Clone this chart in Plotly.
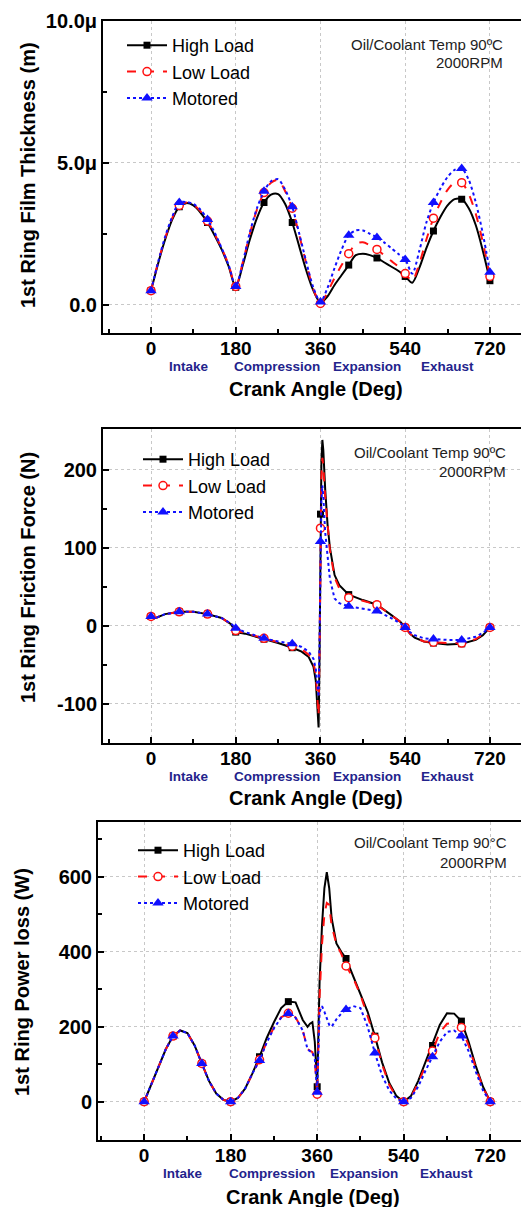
import plotly.graph_objects as go

# ---------------- data ----------------
# Panel 1: 1st ring film thickness (micrometres)
angle_film = [0, 15, 30, 45, 60, 75, 90, 105, 120, 135, 150, 165, 180,
              195, 210, 225, 240, 255, 270, 285, 300, 315, 330, 345, 360,
              375, 390, 405, 420, 435, 450, 465, 480, 495, 510, 525, 540,
              555, 570, 585, 600, 615, 630, 645, 660, 675, 690, 705, 720]
film_high = [0.5, 1.45, 2.3, 3.0, 3.45, 3.58, 3.5, 3.25, 2.9, 2.45, 1.95, 1.35, 0.62,
             1.4, 2.3, 3.05, 3.6, 3.88, 3.9, 3.55, 2.9, 2.05, 1.2, 0.5, 0.08,
             0.3, 0.7, 1.05, 1.4, 1.75, 1.8, 1.75, 1.65, 1.5, 1.35, 1.2, 1.0,
             0.78, 1.3, 2.0, 2.6, 3.1, 3.5, 3.72, 3.72, 3.4, 2.8, 1.9, 0.85]
film_low = [0.5, 1.5, 2.35, 3.05, 3.5, 3.6, 3.52, 3.3, 2.95, 2.5, 2.0, 1.4, 0.65,
            1.5, 2.5, 3.35, 3.95, 4.3, 4.4, 4.0, 3.4, 2.45, 1.45, 0.55, 0.05,
            0.45, 0.95, 1.4, 1.8, 2.15, 2.2, 2.1, 1.95, 1.75, 1.55, 1.35, 1.1,
            0.85, 1.45, 2.3, 3.05, 3.6, 4.05, 4.3, 4.3, 3.9, 3.2, 2.2, 1.0]
film_motored = [0.5, 1.5, 2.4, 3.1, 3.6, 3.62, 3.55, 3.35, 3.0, 2.55, 2.0, 1.4, 0.65,
                1.5, 2.55, 3.4, 4.0, 4.35, 4.42, 4.05, 3.45, 2.5, 1.5, 0.6, 0.1,
                0.6, 1.3, 1.95, 2.45, 2.62, 2.62, 2.5, 2.37, 2.2, 2.0, 1.8, 1.6,
                1.1, 1.9, 2.9, 3.6, 4.1, 4.5, 4.75, 4.8, 4.4, 3.6, 2.5, 1.15]

# Panel 2: 1st ring friction force (N)
angle_fric = [0, 10, 30, 60, 90, 120, 150, 170, 180, 200, 240, 270, 300, 320, 335,
              345, 350, 353, 356, 358, 360, 362, 364, 366, 370, 375, 380, 390, 400,
              420, 450, 480, 510, 530, 540, 550, 560, 580, 600, 630, 660, 690, 705, 720]
fric_high = [12, 10, 15, 18, 18, 15, 10, 2, -8, -10, -17, -22, -28, -33, -40,
             -52, -70, -95, -130, -40, 143, 210, 238, 225, 175, 130, 100, 65, 52,
             40, 33, 27, 14, 5, -2, -10, -15, -20, -22, -24, -23, -18, -12, -2]
fric_low = [12, 10, 15, 18, 18, 15, 10, 2, -6, -9, -16, -21, -26, -30, -37,
            -47, -62, -85, -115, -35, 125, 190, 215, 205, 165, 125, 97, 62, 48,
            36, 32, 27, 14, 5, -2, -10, -15, -20, -21, -22, -22, -17, -11, -2]
fric_motored = [12, 10, 15, 18, 18, 15, 10, 3, -3, -8, -16, -20, -23, -27, -33,
                -42, -55, -70, -91, -20, 108, 160, 180, 165, 120, 85, 60, 35, 29,
                25, 22, 19, 10, 3, -2, -8, -12, -16, -17, -18, -18, -14, -9, -2]

# Panel 3: 1st ring power loss (W)
angle_pow = [0, 15, 30, 45, 60, 75, 90, 105, 120, 135, 150, 165, 180,
             195, 210, 225, 240, 255, 270, 285, 300, 315, 330, 340, 345, 350, 355, 360,
             365, 370, 375, 380, 385, 390, 400, 410, 420, 435, 450, 465, 480, 495, 510, 525, 540,
             555, 570, 585, 600, 615, 630, 645, 660, 675, 690, 705, 720]
pow_high = [0, 45, 95, 140, 175, 190, 183, 150, 102, 55, 22, 5, 0,
            10, 35, 75, 120, 170, 212, 250, 267, 265, 218, 200, 208, 212, 160, 40,
            320, 470, 570, 612, 570, 490, 422, 400, 382, 335, 292, 240, 175, 105, 50, 15, 0,
            15, 55, 105, 150, 205, 236, 235, 215, 160, 95, 40, 0]
pow_low = [0, 45, 95, 140, 175, 190, 183, 150, 102, 55, 22, 5, 0,
           10, 35, 75, 112, 160, 198, 225, 236, 225, 190, 140, 135, 132, 110, 20,
           280, 420, 500, 530, 525, 470, 420, 395, 362, 330, 285, 230, 170, 100, 45, 12, 0,
           12, 50, 95, 135, 185, 208, 210, 198, 150, 90, 38, 0]
pow_motored = [0, 45, 95, 140, 175, 190, 183, 150, 102, 55, 22, 5, 0,
               10, 35, 75, 110, 158, 196, 224, 235, 224, 190, 140, 135, 132, 115, 25,
               240, 255, 240, 220, 205, 200, 220, 235, 246, 255, 250, 200, 130, 70, 30, 8, 0,
               10, 40, 82, 120, 160, 186, 190, 175, 135, 80, 30, 0]

series_names = ["High Load", "Low Load", "Motored"]
stroke_labels = ["Intake", "Compression", "Expansion", "Exhaust"]
stroke_pos = [81, 267, 458, 630]
x_ticks = [0, 180, 360, 540, 720]
x_minor = [-90, 90, 270, 450, 630]

# ---------------- styling ----------------
W, H = 521, 1207
FONT = "Liberation Sans, Arial, sans-serif"
styles = [
    dict(line=dict(color="black", width=2, dash="solid"),
         marker=dict(symbol="square", size=7, color="black")),
    dict(line=dict(color="#ff1010", width=2, dash="dash"),
         marker=dict(symbol="circle", size=8, color="white",
                     line=dict(color="#ff1010", width=1.5))),
    dict(line=dict(color="#1010ff", width=2, dash="dot"),
         marker=dict(symbol="triangle-up", size=10, color="#1010ff")),
]


def py(p):
    return 1 - p / H


fig = go.Figure()

panels = [
    dict(x=angle_film, ys=[film_high, film_low, film_motored], shape="spline"),
    dict(x=angle_fric, ys=[fric_high, fric_low, fric_motored], shape="linear"),
    dict(x=angle_pow, ys=[pow_high, pow_low, pow_motored], shape="linear"),
]

for pi, pan in enumerate(panels):
    xa = "x" if pi == 0 else f"x{pi + 1}"
    ya = "y" if pi == 0 else f"y{pi + 1}"
    lg = "legend" if pi == 0 else f"legend{pi + 1}"
    for si, yv in enumerate(pan["ys"]):
        st = styles[si]
        ln = dict(st["line"])
        ln["shape"] = pan["shape"]
        if pan["shape"] == "spline":
            ln["smoothing"] = 0.8
        fig.add_trace(go.Scatter(x=pan["x"], y=yv, mode="lines", line=ln,
                                 xaxis=xa, yaxis=ya, showlegend=False,
                                 hoverinfo="skip"))
        mx = [a for a in pan["x"] if a % 60 == 0]
        my = [v for a, v in zip(pan["x"], yv) if a % 60 == 0]
        fig.add_trace(go.Scatter(x=mx, y=my, mode="markers", marker=st["marker"],
                                 xaxis=xa, yaxis=ya, showlegend=False))
    for si, nm in enumerate(series_names):
        st = styles[si]
        fig.add_trace(go.Scatter(x=[None], y=[None], mode="lines+markers", name=nm,
                                 line=st["line"], marker=st["marker"],
                                 xaxis=xa, yaxis=ya, legend=lg))

# axis geometry (pixels)
geo = [
    dict(left=103, top=20.7, bottom=333, xr=[-102, 786], yr=[-0.99, 10.0],
         ytv=[0, 5, 10], ytt=["0.0", "5.0μ", "10.0μ"], ymin=[2.5, 7.5]),
    dict(left=103, top=429, bottom=743, xr=[-102, 786], yr=[-150, 252],
         ytv=[-100, 0, 100, 200], ytt=["-100", "0", "100", "200"], ymin=[-50, 50, 150]),
    dict(left=98, top=822, bottom=1140, xr=[-96, 784], yr=[-102, 746],
         ytv=[0, 200, 400, 600], ytt=["0", "200", "400", "600"], ymin=[100, 300, 500, 700]),
]

common = dict(showline=True, linecolor="black", linewidth=2, ticks="inside",
              ticklen=6, tickwidth=1.5, tickcolor="black", zeroline=False,
              automargin=False,
              showgrid=True, gridcolor="#c8c8c8", griddash="dot", gridwidth=1)

layout = {}
for pi, g in enumerate(geo):
    xk = "xaxis" if pi == 0 else f"xaxis{pi + 1}"
    yk = "yaxis" if pi == 0 else f"yaxis{pi + 1}"
    ya = "y" if pi == 0 else f"y{pi + 1}"
    xa = "x" if pi == 0 else f"x{pi + 1}"
    layout[xk] = dict(common, domain=[g["left"] / W, 1], range=g["xr"], anchor=ya,
                      tickmode="array", tickvals=x_ticks, mirror=True,
                      ticklabelstandoff=-3,
                      tickfont=dict(family=FONT, size=19, color="black", weight="bold"),
                      minor=dict(tickmode="array", tickvals=x_minor, ticks="inside",
                                 ticklen=4, tickcolor="black", showgrid=False))
    layout[yk] = dict(common, domain=[py(g["bottom"]), py(g["top"])], range=g["yr"],
                      anchor=xa, tickmode="array", tickvals=g["ytv"], ticktext=g["ytt"],
                      tickfont=dict(family=FONT, size=20, color="black", weight="bold"),
                      minor=dict(tickmode="array", tickvals=g["ymin"], ticks="inside",
                                 ticklen=4, tickcolor="black", showgrid=False))

legends = [(122, 27), (138, 441), (133, 832)]
for pi, (lx, ly) in enumerate(legends):
    k = "legend" if pi == 0 else f"legend{pi + 1}"
    layout[k] = dict(x=lx / W, y=py(ly), xanchor="left", yanchor="top",
                     bgcolor="rgba(0,0,0,0)", itemwidth=40,
                     font=dict(family=FONT, size=18, color="black"))

annotations = []
# condition notes
notes = [(505, 45, 63, "Oil/Coolant Temp 90ºC"), (508, 452, 471, "Oil/Coolant Temp 90ºC"),
         (509, 842, 862, "Oil/Coolant Temp 90°C")]
for (rx, y1, y2, t) in notes:
    annotations.append(dict(xref="paper", yref="paper", x=rx / W, y=py(y1), text=t,
                            showarrow=False, xanchor="right", yanchor="middle",
                            font=dict(family=FONT, size=15, color="#222")))
    annotations.append(dict(xref="paper", yref="paper", x=rx / W, y=py(y2), text="2000RPM",
                            showarrow=False, xanchor="right", yanchor="middle",
                            font=dict(family=FONT, size=15, color="#222")))

# stroke labels and axis titles
stroke_y = [367, 776, 1173]
xtitle = [(315.5, 389), (315.5, 798), (312.5, 1197)]
ytitles = [("1st Ring Film Thickness (m)", 28, 175),
           ("1st Ring Friction Force (N)", 28, 578),
           ("1st Ring Power loss (W)", 22, 982)]
for pi in range(3):
    xa = "x" if pi == 0 else f"x{pi + 1}"
    for lbl, pos in zip(stroke_labels, stroke_pos):
        annotations.append(dict(xref=xa, yref="paper", x=pos, y=py(stroke_y[pi]),
                                text=lbl, showarrow=False, xanchor="center",
                                yanchor="middle",
                                font=dict(family=FONT, size=13.5, color="#23238c",
                                          weight="bold")))
    annotations.append(dict(xref="paper", yref="paper", x=xtitle[pi][0] / W,
                            y=py(xtitle[pi][1]), text="Crank Angle (Deg)",
                            showarrow=False, xanchor="center", yanchor="middle",
                            font=dict(family=FONT, size=20, color="black", weight="bold")))
    t, cx, cy = ytitles[pi]
    annotations.append(dict(xref="paper", yref="paper", x=cx / W, y=py(cy), text=t,
                            textangle=-90, showarrow=False, xanchor="center",
                            yanchor="middle",
                            font=dict(family=FONT, size=20, color="black", weight="bold")))

fig.update_layout(width=W, height=H,
                  margin=dict(l=0, r=0, t=0, b=0, autoexpand=False),
                  paper_bgcolor="white", plot_bgcolor="white",
                  annotations=annotations, **layout)

fig.write_html("out.html")
